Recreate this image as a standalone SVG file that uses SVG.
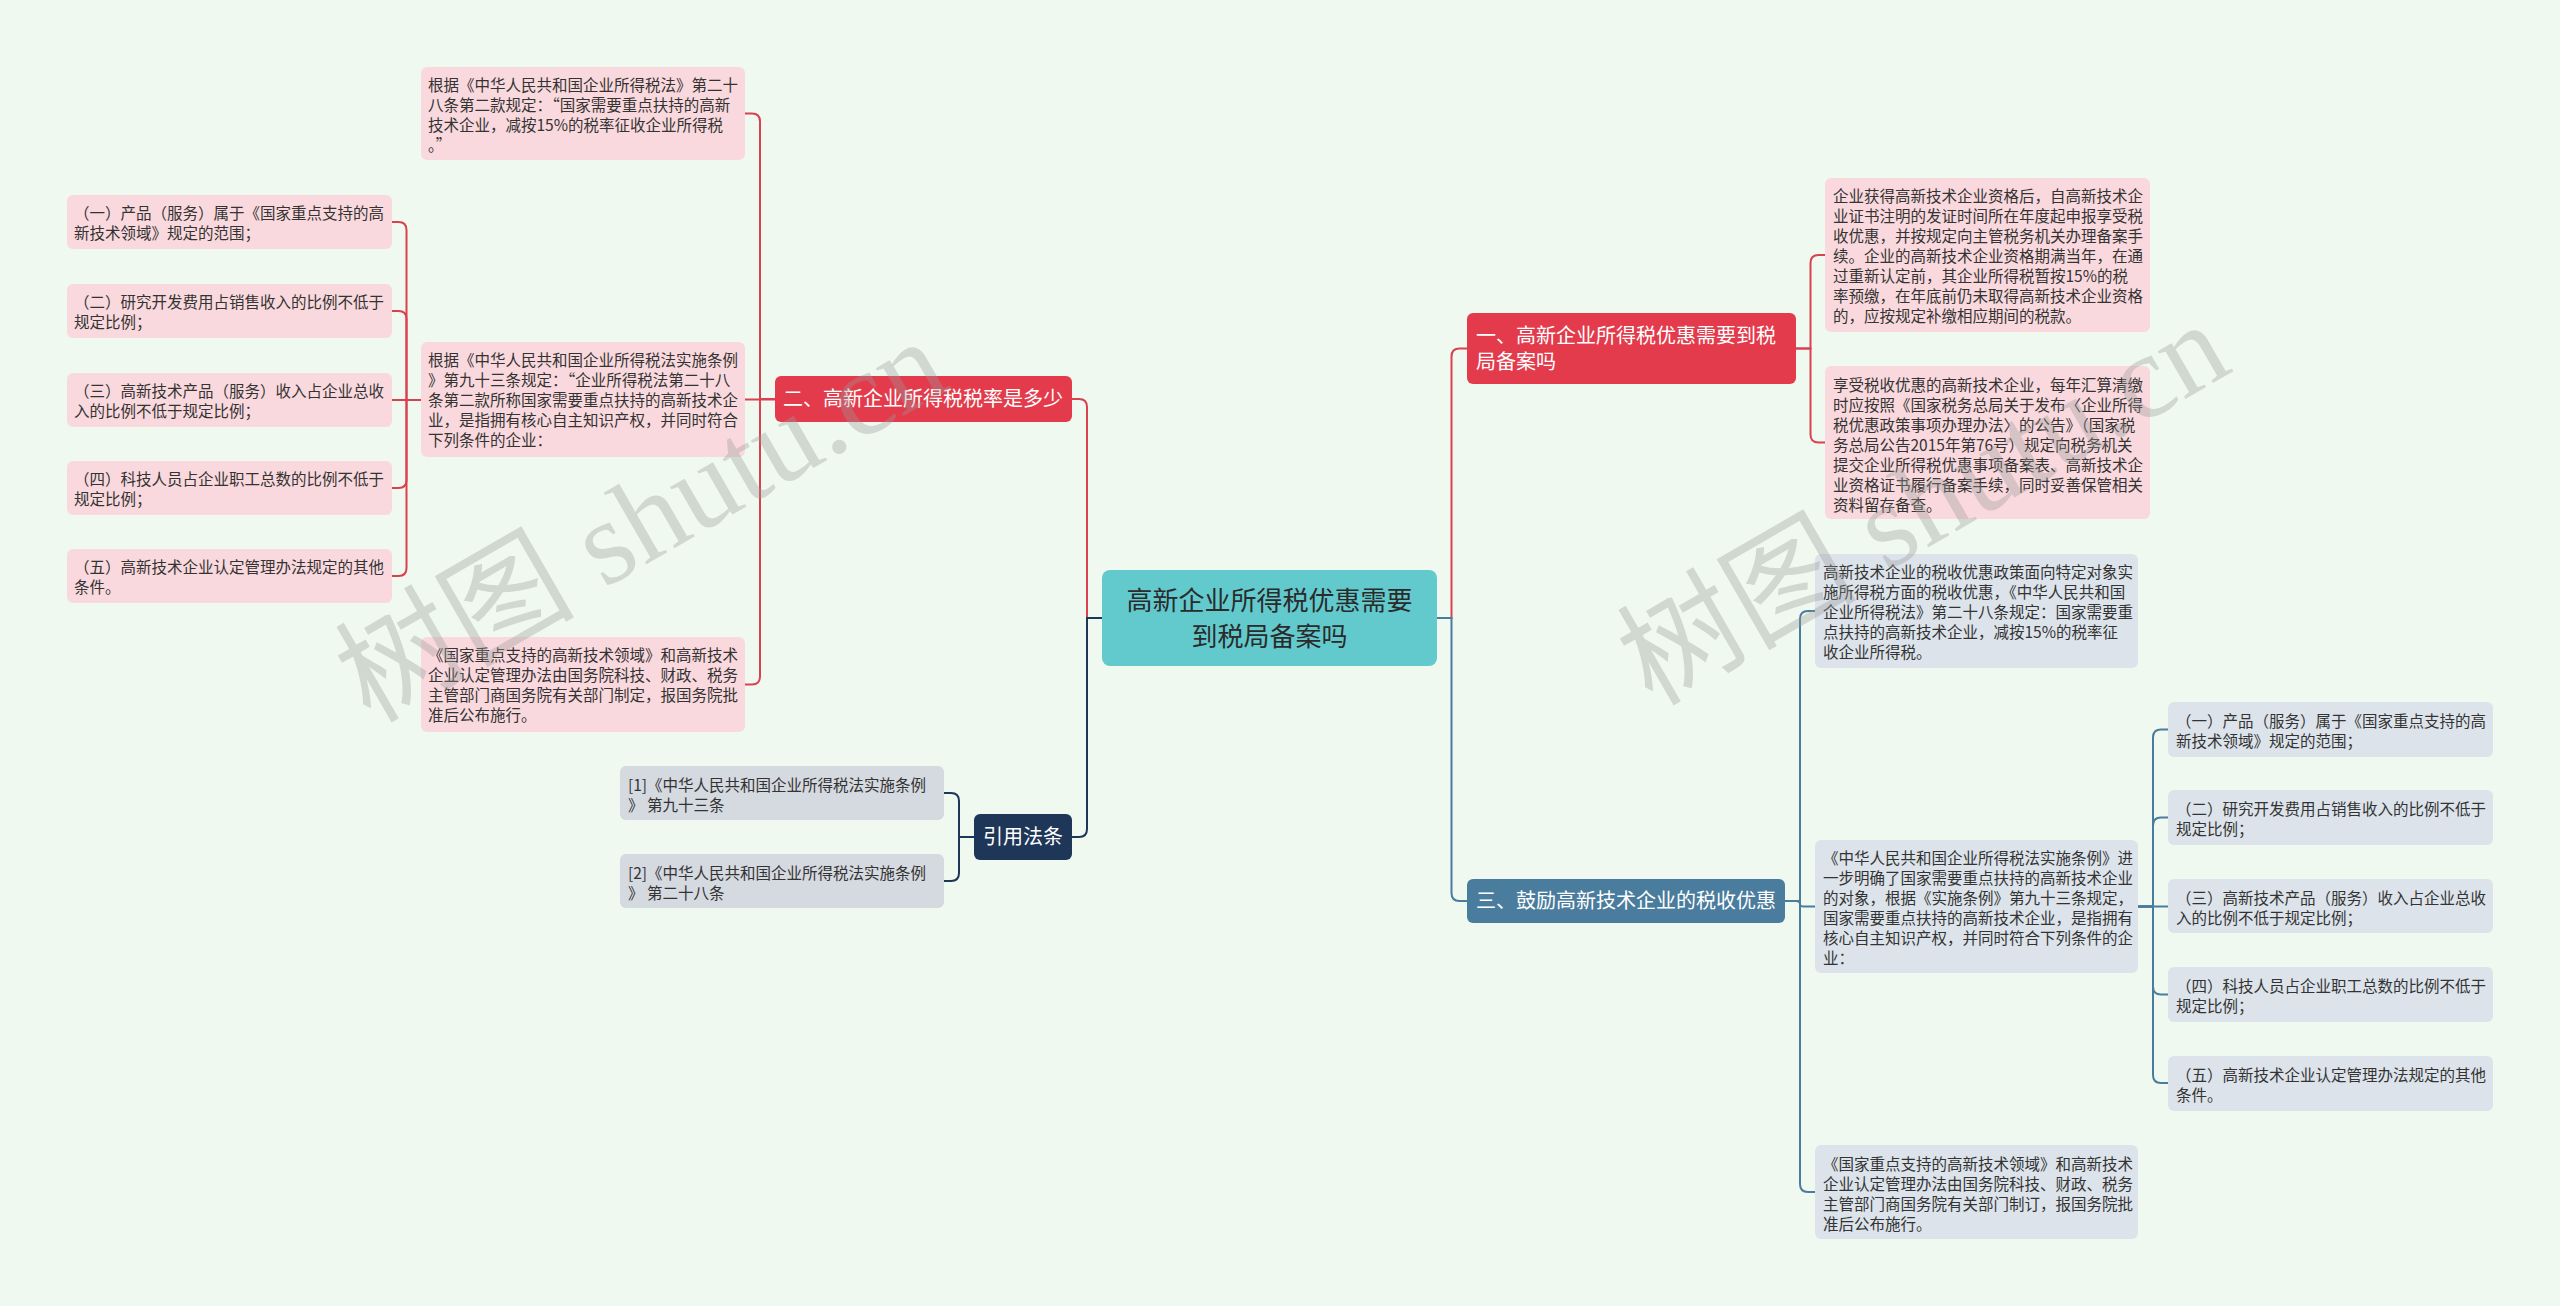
<svg xmlns="http://www.w3.org/2000/svg" width="2560" height="1306" viewBox="0 0 2560 1306">
<style>
.bg{fill:#F0F9EF}
.pk{fill:#F9D9DD}
.gb{fill:#DCE3EA}
.gc{fill:#D5D9E0}
.t{font-family:"Noto Sans CJK SC","Noto Sans",sans-serif;font-size:15.5px;fill:#333}
.tb{font-family:"Noto Sans CJK SC","Noto Sans",sans-serif;font-size:20px;fill:#fff}
.tc{font-family:"Noto Sans CJK SC","Noto Sans",sans-serif;font-size:26px;fill:#2b2b2b}
.c{fill:none;stroke-width:2}
.red{stroke:#D9414F}
.navy{stroke:#1E3658}
.steel{stroke:#4A7C9D}
.wm{font-family:"Liberation Serif","Noto Sans CJK SC",serif;font-size:120px;fill:#9a9a9a;opacity:0.35}
</style>
<rect class="bg" x="0" y="0" width="2560" height="1306"/>

<g id="connectors">
<!-- center to branches -->
<path class="c red" d="M1102,618 H1087 V407 Q1087,399 1079,399 H1072"/>
<path class="c navy" d="M1102,618 H1087 V829 Q1087,837 1079,837 H1072"/>
<path class="c red" d="M1437,618 H1451.5 V356.5 Q1451.5,348.5 1459.5,348.5 H1467"/>
<path class="c steel" d="M1437,618 H1451.5 V893 Q1451.5,901 1459.5,901 H1467"/>
<!-- branch 二 -->
<path class="c red" d="M775,399 H760 V121.5 Q760,113.5 752,113.5 H745"/>
<path class="c red" d="M775,399.5 H745"/>
<path class="c red" d="M775,399 H760 V676.5 Q760,684.5 752,684.5 H745"/>
<!-- L-mid to leaves -->
<path class="c red" d="M421,400 H406.5 V230 Q406.5,222 398.5,222 H392"/>
<path class="c red" d="M421,400 H406.5 V319 Q406.5,311 398.5,311 H392"/>
<path class="c red" d="M421,400 H392"/>
<path class="c red" d="M421,400 H406.5 V480 Q406.5,488 398.5,488 H392"/>
<path class="c red" d="M421,400 H406.5 V568 Q406.5,576 398.5,576 H392"/>
<!-- citations -->
<path class="c navy" d="M974,837 H959 V801 Q959,793 951,793 H944"/>
<path class="c navy" d="M974,837 H959 V873 Q959,881 951,881 H944"/>
<!-- branch 一 -->
<path class="c red" d="M1796,348.5 H1810.5 V263 Q1810.5,255 1818.5,255 H1825"/>
<path class="c red" d="M1796,348.5 H1810.5 V434.5 Q1810.5,442.5 1818.5,442.5 H1825"/>
<!-- branch 三 -->
<path class="c steel" d="M1785,901 H1800 V619 Q1800,611 1808,611 H1815"/>
<path class="c steel" d="M1785,901 H1796 Q1800,901 1800,904 Q1800,906.5 1804,906.5 H1815"/>
<path class="c steel" d="M1785,901 H1800 V1184 Q1800,1192 1808,1192 H1815"/>
<!-- 三-2 to leaves -->
<path class="c steel" d="M2138,906.5 H2153 V737.5 Q2153,729.5 2161,729.5 H2168"/>
<path class="c steel" d="M2138,906.5 H2153 V825.5 Q2153,817.5 2161,817.5 H2168"/>
<path class="c steel" d="M2138,906.5 H2168"/>
<path class="c steel" d="M2138,906.5 H2153 V986.5 Q2153,994.5 2161,994.5 H2168"/>
<path class="c steel" d="M2138,906.5 H2153 V1075 Q2153,1083 2161,1083 H2168"/>
</g>

<g id="center">
<rect x="1102" y="570" width="335" height="96" rx="8" fill="#62CACD"/>
<text class="tc" x="1269.5" y="609.5" text-anchor="middle">高新企业所得税优惠需要</text>
<text class="tc" x="1269.5" y="645.5" text-anchor="middle">到税局备案吗</text>
</g>

<g id="branch2">
<rect x="775" y="376" width="297" height="46" rx="6" fill="#E33B4B"/>
<text class="tb" x="783" y="406">二、高新企业所得税税率是多少</text>
</g>

<g id="cite">
<rect x="974" y="814" width="98" height="46" rx="6" fill="#1E3658"/>
<text class="tb" x="983" y="844">引用法条</text>
</g>

<g id="branch1">
<rect x="1467" y="313" width="329" height="71" rx="6" fill="#E33B4B"/>
<text class="tb" x="1476" y="342.5">一、高新企业所得税优惠需要到税</text>
<text class="tb" x="1476" y="369">局备案吗</text>
</g>

<g id="branch3">
<rect x="1467" y="879" width="318" height="44" rx="6" fill="#4A7C9D"/>
<text class="tb" x="1476" y="908">三、鼓励高新技术企业的税收优惠</text>
</g>

<g id="l-top">
<rect class="pk" x="421" y="67" width="324" height="93" rx="6"/>
<text class="t" x="428" y="90.5">根据《中华人民共和国企业所得税法》第二十</text>
<text class="t" x="428" y="110.5">八条第二款规定：“国家需要重点扶持的高新</text>
<text class="t" x="428" y="130.5">技术企业，减按15%的税率征收企业所得税</text>
<text class="t" x="428" y="150.5">。”</text>
</g>

<g id="l-mid">
<rect class="pk" x="421" y="342" width="324" height="115" rx="6"/>
<text class="t" x="428" y="365.5">根据《中华人民共和国企业所得税法实施条例</text>
<text class="t" x="428" y="385.5">》第九十三条规定：“企业所得税法第二十八</text>
<text class="t" x="428" y="405.5">条第二款所称国家需要重点扶持的高新技术企</text>
<text class="t" x="428" y="425.5">业，是指拥有核心自主知识产权，并同时符合</text>
<text class="t" x="428" y="445.5">下列条件的企业：</text>
</g>

<g id="l-bot">
<rect class="pk" x="421" y="637" width="324" height="95" rx="6"/>
<text class="t" x="428" y="660.5">《国家重点支持的高新技术领域》和高新技术</text>
<text class="t" x="428" y="680.5">企业认定管理办法由国务院科技、财政、税务</text>
<text class="t" x="428" y="700.5">主管部门商国务院有关部门制定，报国务院批</text>
<text class="t" x="428" y="720.5">准后公布施行。</text>
</g>

<g id="l-leaf1">
<rect class="pk" x="67" y="195" width="325" height="54" rx="6"/>
<text class="t" x="74" y="218.5">（一）产品（服务）属于《国家重点支持的高</text>
<text class="t" x="74" y="238.5">新技术领域》规定的范围；</text>
</g>
<g id="l-leaf2">
<rect class="pk" x="67" y="284" width="325" height="54" rx="6"/>
<text class="t" x="74" y="307.5">（二）研究开发费用占销售收入的比例不低于</text>
<text class="t" x="74" y="327.5">规定比例；</text>
</g>
<g id="l-leaf3">
<rect class="pk" x="67" y="373" width="325" height="54" rx="6"/>
<text class="t" x="74" y="396.5">（三）高新技术产品（服务）收入占企业总收</text>
<text class="t" x="74" y="416.5">入的比例不低于规定比例；</text>
</g>
<g id="l-leaf4">
<rect class="pk" x="67" y="461" width="325" height="54" rx="6"/>
<text class="t" x="74" y="484.5">（四）科技人员占企业职工总数的比例不低于</text>
<text class="t" x="74" y="504.5">规定比例；</text>
</g>
<g id="l-leaf5">
<rect class="pk" x="67" y="549" width="325" height="54" rx="6"/>
<text class="t" x="74" y="572.5">（五）高新技术企业认定管理办法规定的其他</text>
<text class="t" x="74" y="592.5">条件。</text>
</g>

<g id="cite1">
<rect class="gc" x="620" y="766" width="324" height="54" rx="6"/>
<text class="t" x="628" y="790.5">[1]《中华人民共和国企业所得税法实施条例</text>
<text class="t" x="628" y="810.5">》 第九十三条</text>
</g>
<g id="cite2">
<rect class="gc" x="620" y="854" width="324" height="54" rx="6"/>
<text class="t" x="628" y="878.5">[2]《中华人民共和国企业所得税法实施条例</text>
<text class="t" x="628" y="898.5">》 第二十八条</text>
</g>

<g id="r1-a">
<rect class="pk" x="1825" y="178" width="325" height="154" rx="6"/>
<text class="t" x="1833" y="202">企业获得高新技术企业资格后，自高新技术企</text>
<text class="t" x="1833" y="222">业证书注明的发证时间所在年度起申报享受税</text>
<text class="t" x="1833" y="242">收优惠，并按规定向主管税务机关办理备案手</text>
<text class="t" x="1833" y="262">续。企业的高新技术企业资格期满当年，在通</text>
<text class="t" x="1833" y="282">过重新认定前，其企业所得税暂按15%的税</text>
<text class="t" x="1833" y="302">率预缴，在年底前仍未取得高新技术企业资格</text>
<text class="t" x="1833" y="322">的，应按规定补缴相应期间的税款。</text>
</g>
<g id="r1-b">
<rect class="pk" x="1825" y="366" width="325" height="153" rx="6"/>
<text class="t" x="1833" y="390.5">享受税收优惠的高新技术企业，每年汇算清缴</text>
<text class="t" x="1833" y="410.5">时应按照《国家税务总局关于发布〈企业所得</text>
<text class="t" x="1833" y="430.5">税优惠政策事项办理办法〉的公告》（国家税</text>
<text class="t" x="1833" y="450.5">务总局公告2015年第76号）规定向税务机关</text>
<text class="t" x="1833" y="470.5">提交企业所得税优惠事项备案表、高新技术企</text>
<text class="t" x="1833" y="490.5">业资格证书履行备案手续，同时妥善保管相关</text>
<text class="t" x="1833" y="510.5">资料留存备查。</text>
</g>

<g id="r3-a">
<rect class="gb" x="1815" y="554" width="323" height="114" rx="6"/>
<text class="t" x="1823" y="577.5">高新技术企业的税收优惠政策面向特定对象实</text>
<text class="t" x="1823" y="597.5">施所得税方面的税收优惠，《中华人民共和国</text>
<text class="t" x="1823" y="617.5">企业所得税法》第二十八条规定：国家需要重</text>
<text class="t" x="1823" y="637.5">点扶持的高新技术企业，减按15%的税率征</text>
<text class="t" x="1823" y="657.5">收企业所得税。</text>
</g>
<g id="r3-b">
<rect class="gb" x="1815" y="840" width="323" height="133" rx="6"/>
<text class="t" x="1823" y="863.5">《中华人民共和国企业所得税法实施条例》进</text>
<text class="t" x="1823" y="883.5">一步明确了国家需要重点扶持的高新技术企业</text>
<text class="t" x="1823" y="903.5">的对象，根据《实施条例》第九十三条规定，</text>
<text class="t" x="1823" y="923.5">国家需要重点扶持的高新技术企业，是指拥有</text>
<text class="t" x="1823" y="943.5">核心自主知识产权，并同时符合下列条件的企</text>
<text class="t" x="1823" y="963.5">业：</text>
</g>
<g id="r3-c">
<rect class="gb" x="1815" y="1145" width="323" height="94" rx="6"/>
<text class="t" x="1823" y="1170">《国家重点支持的高新技术领域》和高新技术</text>
<text class="t" x="1823" y="1190">企业认定管理办法由国务院科技、财政、税务</text>
<text class="t" x="1823" y="1210">主管部门商国务院有关部门制订，报国务院批</text>
<text class="t" x="1823" y="1230">准后公布施行。</text>
</g>

<g id="r-leaf1">
<rect class="gb" x="2168" y="702" width="325" height="55" rx="6"/>
<text class="t" x="2176" y="727">（一）产品（服务）属于《国家重点支持的高</text>
<text class="t" x="2176" y="747">新技术领域》规定的范围；</text>
</g>
<g id="r-leaf2">
<rect class="gb" x="2168" y="790" width="325" height="55" rx="6"/>
<text class="t" x="2176" y="815">（二）研究开发费用占销售收入的比例不低于</text>
<text class="t" x="2176" y="835">规定比例；</text>
</g>
<g id="r-leaf3">
<rect class="gb" x="2168" y="879" width="325" height="54" rx="6"/>
<text class="t" x="2176" y="903.5">（三）高新技术产品（服务）收入占企业总收</text>
<text class="t" x="2176" y="923.5">入的比例不低于规定比例；</text>
</g>
<g id="r-leaf4">
<rect class="gb" x="2168" y="967" width="325" height="55" rx="6"/>
<text class="t" x="2176" y="992">（四）科技人员占企业职工总数的比例不低于</text>
<text class="t" x="2176" y="1012">规定比例；</text>
</g>
<g id="r-leaf5">
<rect class="gb" x="2168" y="1056" width="325" height="55" rx="6"/>
<text class="t" x="2176" y="1081">（五）高新技术企业认定管理办法规定的其他</text>
<text class="t" x="2176" y="1101">条件。</text>
</g>

<g id="watermarks">
<text class="wm" x="645" y="560" text-anchor="middle" transform="rotate(-30 645 527)">树图 shutu.cn</text>
<text class="wm" x="1927" y="543" text-anchor="middle" transform="rotate(-30 1927 510)">树图 shutu.cn</text>
</g>
</svg>
